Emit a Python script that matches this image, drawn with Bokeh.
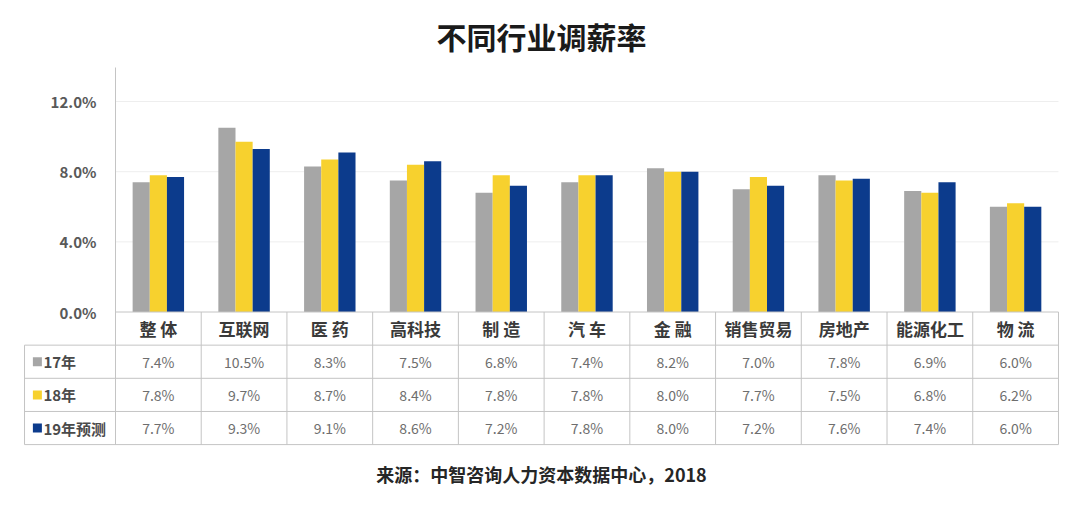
from bokeh.plotting import figure
from bokeh.models import (ColumnDataSource, LinearAxis, FixedTicker,
                          PrintfTickFormatter, Range1d, Title)
from bokeh.core.properties import value
from bokeh.embed import file_html
from bokeh.resources import INLINE

# ---------------- data ----------------
categories = ["整 体", "互联网", "医 药", "高科技", "制 造", "汽 车",
              "金 融", "销售贸易", "房地产", "能源化工", "物 流"]
series_names = ["17年", "18年", "19年预测"]
v17 = [7.4, 10.5, 8.3, 7.5, 6.8, 7.4, 8.2, 7.0, 7.8, 6.9, 6.0]
v18 = [7.8, 9.7, 8.7, 8.4, 7.8, 7.8, 8.0, 7.7, 7.5, 6.8, 6.2]
v19 = [7.7, 9.3, 9.1, 8.6, 7.2, 7.8, 8.0, 7.2, 7.6, 7.4, 6.0]
y_ticks = [0, 4, 8, 12]
title_text = "不同行业调薪率"
source_text = "来源：中智咨询人力资本数据中心，2018"

# ---------------- style ----------------
FONT = "Noto Sans CJK SC"
COLORS = ["#A6A6A6", "#F7D12E", "#0C3B8C"]
LINE = "#C4C4C4"
n = len(categories)
ROW = 1.89          # table row height in y units
LEFT = -1.061       # left edge of the legend column (x units)
BAR_W = 0.2

series = [v17, v18, v19]

p = figure(width=1064, height=500,
           x_range=Range1d(-1.108, 11.047), y_range=Range1d(-7.782, 14.225),
           x_axis_type=None, y_axis_type=None,
           toolbar_location=None, output_backend="svg",
           min_border_left=20, min_border_right=2,
           min_border_top=62, min_border_bottom=52,
           outline_line_color=None, background_fill_color="white")
p.xgrid.visible = False
p.ygrid.visible = False

# gridlines
gl = [t for t in y_ticks if t > 0]
p.segment(x0=[0] * len(gl), x1=[n] * len(gl), y0=gl, y1=gl,
          line_color="#EEEEEE", line_width=1)

# bars
for k, (vals, col) in enumerate(zip(series, COLORS)):
    xs = [i + 0.5 + (k - 1) * BAR_W for i in range(n)]
    p.vbar(x=xs, top=vals, bottom=0, width=BAR_W, fill_color=col,
           line_color=None)

# y axis at x = 0
yaxis = LinearAxis(fixed_location=0, ticker=FixedTicker(ticks=y_ticks),
                   formatter=PrintfTickFormatter(format="%.1f%%"),
                   bounds=(0, 13.94))
yaxis.axis_line_color = LINE
yaxis.major_tick_line_color = None
yaxis.minor_tick_line_color = None
yaxis.major_tick_out = 0
yaxis.major_label_standoff = 19
yaxis.major_label_text_font = FONT
yaxis.major_label_text_font_size = "15px"
yaxis.major_label_text_font_style = "bold"
yaxis.major_label_text_color = "#595959"
p.add_layout(yaxis, "left")

# table lines
hy = [0] + [-ROW * r for r in range(1, 5)]
hx0 = [0] + [LEFT] * 4
p.segment(x0=hx0, x1=[n] * 5, y0=hy, y1=hy, line_color=LINE, line_width=1)
vx = list(range(n + 1))
p.segment(x0=vx, x1=vx, y0=[0] * len(vx), y1=[-4 * ROW] * len(vx),
          line_color=LINE, line_width=1)
p.segment(x0=[LEFT], x1=[LEFT], y0=[-ROW], y1=[-4 * ROW],
          line_color=LINE, line_width=1)

centers = [i + 0.5 for i in range(n)]

# header row
p.text(x=centers, y=[-ROW / 2] * n, text=categories,
       text_align="center", text_baseline="middle",
       text_font=value(FONT), text_font_style="bold",
       text_font_size="17px", text_color="#3A3A3A")

# value rows
for r, vals in enumerate(series):
    yc = -ROW * (r + 1.5)
    src = ColumnDataSource(dict(x=centers, y=[yc] * n,
                                t=["%.1f%%" % v for v in vals]))
    p.text(x="x", y="y", text="t", source=src,
           text_align="center", text_baseline="middle",
           text_font=value(FONT), text_font_size="14px",
           text_color="#6E6E6E")

# legend column
ys = [-ROW * (r + 1.5) for r in range(3)]
p.scatter(x=[LEFT + 0.15] * 3, y=ys, marker="square", size=9,
          fill_color=COLORS, line_color=None)
p.text(x=[LEFT + 0.22] * 3, y=ys, text=series_names,
       text_align="left", text_baseline="middle",
       text_font=value(FONT), text_font_style="bold",
       text_font_size="15px", text_color="#4A4A4A")

# title & source
p.title.text = title_text
p.title.align = "center"
p.title.text_font = FONT
p.title.text_font_size = "30px"
p.title.text_font_style = "bold"
p.title.text_color = "#1A1A1A"

p.add_layout(Title(text=source_text, align="center", text_font=FONT,
                   text_font_size="18px", text_font_style="bold",
                   text_color="#262626", standoff=21), "below")

open("out.html", "w").write(file_html(p, INLINE))
